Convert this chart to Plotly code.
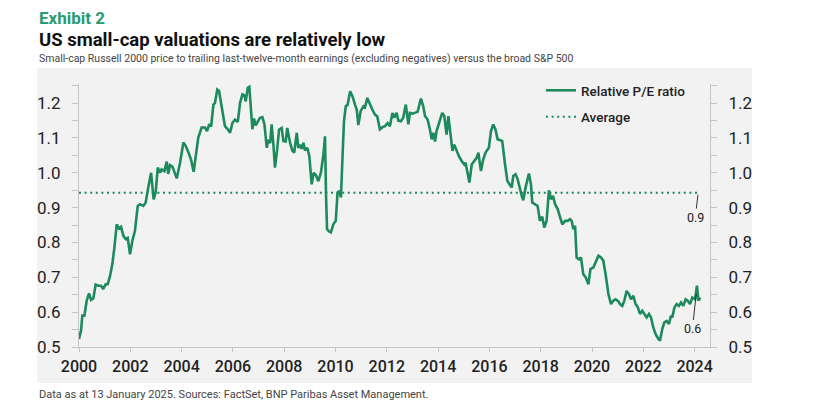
import plotly.graph_objects as go

# ---------------- data ----------------
dates = [
    2000.00, 2000.08, 2000.13, 2000.21, 2000.30, 2000.39, 2000.47, 2000.56, 2000.65, 2000.75,
    2000.86, 2000.94, 2001.04, 2001.12, 2001.21, 2001.30, 2001.38, 2001.47, 2001.56, 2001.64,
    2001.73, 2001.82, 2001.90, 2001.99, 2002.08, 2002.18, 2002.29, 2002.38, 2002.51, 2002.60,
    2002.70, 2002.81, 2002.91, 2002.99, 2003.07, 2003.16, 2003.22, 2003.33, 2003.42, 2003.48,
    2003.55, 2003.64, 2003.81, 2003.94, 2004.07, 2004.16, 2004.26, 2004.37, 2004.47, 2004.55,
    2004.65, 2004.78, 2004.91, 2004.99, 2005.08, 2005.15, 2005.24, 2005.30, 2005.39, 2005.46,
    2005.56, 2005.69, 2005.80, 2005.89, 2005.98, 2006.08, 2006.19, 2006.28, 2006.37, 2006.45,
    2006.50, 2006.58, 2006.64, 2006.71, 2006.76, 2006.82, 2006.89, 2006.99, 2007.06, 2007.15,
    2007.23, 2007.32, 2007.38, 2007.45, 2007.51, 2007.58, 2007.64, 2007.72, 2007.80, 2007.90,
    2007.97, 2008.06, 2008.12, 2008.23, 2008.32, 2008.39, 2008.49, 2008.55, 2008.62, 2008.68,
    2008.75, 2008.81, 2008.90, 2008.98, 2009.07, 2009.15, 2009.24, 2009.33, 2009.43, 2009.53,
    2009.59, 2009.63, 2009.67, 2009.75, 2009.82, 2009.92, 2010.01, 2010.08, 2010.15, 2010.21,
    2010.28, 2010.33, 2010.40, 2010.47, 2010.57, 2010.66, 2010.76, 2010.83, 2010.89, 2010.98,
    2011.09, 2011.15, 2011.24, 2011.34, 2011.44, 2011.54, 2011.63, 2011.73, 2011.83, 2011.93,
    2012.03, 2012.12, 2012.22, 2012.29, 2012.38, 2012.45, 2012.55, 2012.64, 2012.74, 2012.84,
    2012.90, 2013.00, 2013.10, 2013.20, 2013.33, 2013.42, 2013.49, 2013.59, 2013.68, 2013.75,
    2013.81, 2013.88, 2013.94, 2014.04, 2014.16, 2014.24, 2014.33, 2014.40, 2014.46, 2014.56,
    2014.63, 2014.72, 2014.81, 2014.92, 2015.02, 2015.07, 2015.15, 2015.22, 2015.31, 2015.41,
    2015.50, 2015.57, 2015.67, 2015.76, 2015.85, 2015.93, 2015.98, 2016.06, 2016.15, 2016.24,
    2016.32, 2016.41, 2016.50, 2016.61, 2016.70, 2016.80, 2016.87, 2016.93, 2017.02, 2017.10,
    2017.19, 2017.26, 2017.32, 2017.41, 2017.54, 2017.62, 2017.67, 2017.78, 2017.88, 2017.97,
    2018.06, 2018.14, 2018.23, 2018.32, 2018.40, 2018.48, 2018.56, 2018.66, 2018.75, 2018.84,
    2018.95, 2019.05, 2019.14, 2019.21, 2019.27, 2019.34, 2019.40, 2019.49, 2019.57, 2019.66,
    2019.75, 2019.86, 2019.94, 2020.05, 2020.14, 2020.25, 2020.35, 2020.44, 2020.53, 2020.64,
    2020.74, 2020.83, 2020.92, 2021.03, 2021.09, 2021.18, 2021.26, 2021.35, 2021.44, 2021.52,
    2021.61, 2021.70, 2021.78, 2021.87, 2021.96, 2022.04, 2022.13, 2022.22, 2022.30, 2022.39,
    2022.48, 2022.59, 2022.65, 2022.74, 2022.82, 2022.91, 2023.00, 2023.08, 2023.13, 2023.21,
    2023.30, 2023.39, 2023.47, 2023.56, 2023.65, 2023.73, 2023.82, 2023.91, 2024.02, 2024.09,
    2024.15, 2024.22,
]

relative_pe = [
    0.523, 0.547, 0.590, 0.590, 0.633, 0.654, 0.635, 0.640, 0.679, 0.676,
    0.676, 0.666, 0.680, 0.680, 0.704, 0.738, 0.786, 0.852, 0.840, 0.845,
    0.819, 0.810, 0.813, 0.766, 0.805, 0.833, 0.905, 0.910, 0.905, 0.915,
    0.958, 1.000, 0.924, 0.944, 1.015, 1.000, 1.010, 1.005, 1.032, 0.997,
    1.022, 1.018, 0.984, 1.029, 1.087, 1.077, 1.060, 1.037, 1.003, 1.050,
    1.101, 1.130, 1.130, 1.120, 1.140, 1.133, 1.196, 1.200, 1.239, 1.235,
    1.187, 1.134, 1.125, 1.115, 1.143, 1.153, 1.146, 1.201, 1.225, 1.222,
    1.205, 1.244, 1.247, 1.187, 1.125, 1.156, 1.136, 1.150, 1.158, 1.160,
    1.139, 1.072, 1.095, 1.085, 1.139, 1.080, 1.015, 1.063, 1.124, 1.129,
    1.091, 1.090, 1.129, 1.086, 1.063, 1.058, 1.115, 1.072, 1.081, 1.069,
    1.086, 1.064, 1.072, 1.048, 0.967, 1.000, 0.993, 0.976, 1.000, 1.053,
    1.105, 0.938, 0.838, 0.832, 0.829, 0.853, 0.862, 0.943, 0.948, 0.929,
    1.053, 1.148, 1.191, 1.195, 1.234, 1.220, 1.196, 1.181, 1.137, 1.177,
    1.191, 1.188, 1.215, 1.196, 1.181, 1.167, 1.162, 1.125, 1.131, 1.134,
    1.143, 1.134, 1.172, 1.158, 1.172, 1.150, 1.148, 1.158, 1.196, 1.139,
    1.172, 1.170, 1.172, 1.175, 1.213, 1.191, 1.163, 1.153, 1.125, 1.096,
    1.115, 1.090, 1.120, 1.143, 1.172, 1.163, 1.110, 1.163, 1.129, 1.063,
    1.081, 1.063, 1.048, 1.034, 1.024, 1.029, 1.000, 0.972, 1.024, 1.034,
    1.043, 1.058, 1.005, 1.039, 1.058, 1.067, 1.072, 1.120, 1.139, 1.124,
    1.096, 1.094, 1.091, 1.024, 0.977, 0.965, 0.958, 0.991, 0.996, 0.982,
    0.953, 0.934, 0.921, 0.958, 0.998, 0.967, 0.915, 0.910, 0.905, 0.862,
    0.874, 0.843, 0.862, 0.950, 0.924, 0.934, 0.910, 0.896, 0.874, 0.852,
    0.862, 0.862, 0.867, 0.862, 0.838, 0.848, 0.757, 0.752, 0.757, 0.709,
    0.700, 0.680, 0.724, 0.728, 0.743, 0.762, 0.757, 0.748, 0.709, 0.652,
    0.623, 0.633, 0.637, 0.631, 0.623, 0.618, 0.633, 0.661, 0.652, 0.637,
    0.647, 0.623, 0.615, 0.595, 0.604, 0.595, 0.585, 0.595, 0.585, 0.556,
    0.537, 0.523, 0.518, 0.552, 0.571, 0.575, 0.566, 0.590, 0.585, 0.613,
    0.623, 0.618, 0.628, 0.618, 0.637, 0.633, 0.623, 0.642, 0.637, 0.676,
    0.633, 0.642,
]

average_pe = 0.943
average_label = "0.9"
latest_label = "0.6"
latest_point = (2024.07, 0.658)

year_ticks = list(range(2000, 2025, 2))
y_ticks = [0.5, 0.6, 0.7, 0.8, 0.9, 1.0, 1.1, 1.2]
y_tick_text = ["0.5", "0.6", "0.7", "0.8", "0.9", "1.0", "1.1", "1.2"]

# ---------------- styling / geometry ----------------
OFF = 8                                # browser body margin offset of the page
W, H = 825 - OFF, 419 - OFF
L, R, T, B = 79, 710, 84, 347          # plot area in reference-picture pixels
GREEN = "#1d8a5e"
TITLE_GREEN = "#2a9a70"
BG = "#f2f2f2"
AX = "#c4c4c4"
FONT = "Roboto, 'Noto Sans', sans-serif"


def px(xpix):
    return (xpix - L) / (R - L)


def py(ypix):
    return (B - ypix) / (B - T)


fig = go.Figure()

fig.add_trace(go.Scatter(
    x=dates, y=relative_pe, mode="lines", name="Relative P/E ratio",
    line=dict(color=GREEN, width=2.6), legendgroup="a",
))
fig.add_trace(go.Scatter(
    x=[dates[0], dates[-1] - 0.08], y=[average_pe, average_pe], mode="lines",
    name="Average", line=dict(color=GREEN, width=2, dash="2px,3.6px"),
    legendgroup="b", yaxis="y2",
))

yaxis_common = dict(
    range=[0.5, 1.255], tickvals=y_ticks, ticktext=y_tick_text,
    showline=True, linecolor=AX, linewidth=1, showgrid=False, zeroline=False,
    ticks="outside", ticklen=6, tickcolor=AX, tickwidth=1,
    minor=dict(dtick=0.05, tick0=0.5, ticks="outside", ticklen=6, tickcolor=AX, showgrid=False),
    tickfont=dict(family=FONT, size=17, color="#222"),
    ticklabelstandoff=8, fixedrange=True,
)

fig.update_layout(
    width=W, height=H,
    margin=dict(l=L - OFF, r=W - (R - OFF), t=T - OFF, b=H - (B - OFF), pad=0),
    paper_bgcolor="white", plot_bgcolor="rgba(0,0,0,0)",
    showlegend=True,
    legend=dict(
        x=px(541), y=py(75), xanchor="left", yanchor="top",
        bgcolor="rgba(0,0,0,0)", tracegroupgap=6,
        font=dict(family=FONT, size=13.5, color="#222", weight=500),
    ),
    xaxis=dict(
        range=[2000, 2024.6], tickvals=year_ticks, tickformat="d",
        showline=True, linecolor=AX, linewidth=1, showgrid=False, zeroline=False,
        ticks="outside", ticklen=4, tickcolor=AX,
        tickfont=dict(family=FONT, size=16, color="#222", weight=500),
        ticklabelstandoff=1, fixedrange=True,
    ),
    yaxis=dict(side="left", **yaxis_common),
    yaxis2=dict(side="right", overlaying="y", **yaxis_common),
    shapes=[dict(
        type="rect", xref="paper", yref="paper", layer="below",
        x0=px(37), x1=px(752), y0=py(383), y1=py(68),
        fillcolor=BG, line=dict(width=0),
    )],
)

texts = [
    ("Exhibit 2", 18, 17, TITLE_GREEN, 700),
    ("US small-cap valuations are relatively low", 40, 18.5, "#111", 700),
    ("Small-cap Russell 2000 price to trailing last-twelve-month earnings (excluding negatives) versus the broad S&P 500",
     59, 10.5, "#444", 400),
    ("Data as at 13 January 2025. Sources: FactSet, BNP Paribas Asset Management.", 394, 11, "#444", 400),
]
for txt, ypix, size, color, weight in texts:
    fig.add_annotation(
        text=txt, xref="paper", yref="paper", x=px(37), y=py(ypix),
        xanchor="left", yanchor="middle", showarrow=False,
        font=dict(family=FONT, size=size, color=color, weight=weight),
    )

# value call-outs with leader lines
fig.add_annotation(
    x=dates[-1] - 0.08, y=average_pe, xref="x", yref="y", text=average_label,
    showarrow=True, arrowhead=0, arrowwidth=1, arrowcolor="#333",
    ax=-3, ay=25, standoff=2, font=dict(family=FONT, size=12.5, color="#222"),
)
fig.add_annotation(
    x=latest_point[0], y=latest_point[1], xref="x", yref="y", text=latest_label,
    showarrow=True, arrowhead=0, arrowwidth=1, arrowcolor="#333",
    ax=-4, ay=37, standoff=2, font=dict(family=FONT, size=12.5, color="#222"),
)

fig.write_html("out.html")
